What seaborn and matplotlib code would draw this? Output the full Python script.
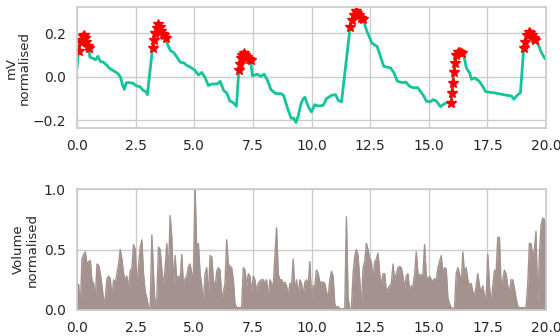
import numpy as np
import pandas as pd
import matplotlib
matplotlib.use("Agg")
import matplotlib.pyplot as plt
import seaborn as sns

# ---- ECG-like trace (seconds, normalised mV) ----
TIME = [0.0, 0.04, 0.09, 0.15, 0.2, 0.25, 0.3, 0.35, 0.4, 0.45, 0.51, 0.55, 0.68, 0.79, 0.89, 0.95,
        1.0, 1.1, 1.2, 1.3, 1.35, 1.45, 1.56, 1.68, 1.77, 1.86, 1.95, 2.02, 2.1, 2.25, 2.4, 2.54,
        2.68, 2.82, 2.95, 3.0, 3.22, 3.28, 3.34, 3.4, 3.47, 3.53, 3.6, 3.66, 3.72, 3.78, 3.83, 3.9,
        3.98, 4.12, 4.2, 4.26, 4.4, 4.55, 4.69, 4.84, 5.03, 5.18, 5.32, 5.46, 5.6, 5.75, 5.97, 6.11,
        6.25, 6.4, 6.51, 6.65, 6.8, 6.9, 6.95, 7.0, 7.05, 7.12, 7.18, 7.25, 7.32, 7.4, 7.48, 7.69,
        7.84, 7.98, 8.13, 8.27, 8.48, 8.7, 8.81, 8.98, 9.13, 9.24, 9.34, 9.44, 9.55, 9.65, 9.72, 9.87,
        10.0, 10.14, 10.28, 10.5, 10.64, 10.86, 11.03, 11.14, 11.28, 11.65, 11.72, 11.8, 11.88, 11.95,
        12.02, 12.1, 12.2, 12.36, 12.58, 12.8, 12.94, 13.08, 13.37, 13.52, 13.66, 13.88, 14.02, 14.17,
        14.31, 14.53, 14.67, 14.77, 14.9, 15.05, 15.19, 15.33, 15.5, 15.69, 15.83, 15.95, 15.99, 16.03,
        16.07, 16.12, 16.18, 16.25, 16.32, 16.4, 16.5, 16.6, 16.74, 16.82, 16.96, 17.15, 17.29, 17.43,
        17.6, 17.81, 18.1, 18.34, 18.53, 18.63, 18.77, 18.91, 19.05, 19.12, 19.2, 19.27, 19.33, 19.4,
        19.47, 19.55, 19.67, 19.81, 19.96]
MV = [0.04, 0.09, 0.12, 0.16, 0.17, 0.185, 0.19, 0.18, 0.16, 0.14, 0.13, 0.09, 0.085, 0.078, 0.094, 0.08,
      0.07, 0.068, 0.06, 0.05, 0.042, 0.035, 0.027, 0.02, 0.012, -0.003, -0.04, -0.058, -0.027, -0.027, -0.03, -0.042,
      -0.045, -0.062, -0.07, -0.082, 0.13, 0.17, 0.2, 0.225, 0.24, 0.23, 0.21, 0.195, 0.19, 0.18, 0.157, 0.14,
      0.12, 0.112, 0.1, 0.09, 0.067, 0.064, 0.052, 0.044, 0.03, 0.008, 0.02, -0.003, -0.04, -0.033, -0.033, -0.021,
      -0.062, -0.077, -0.11, -0.118, -0.135, 0.03, 0.06, 0.085, 0.1, 0.11, 0.1, 0.09, 0.08, 0.075, 0.005, 0.012,
      0.002, 0.012, -0.018, -0.059, -0.077, -0.077, -0.085, -0.145, -0.19, -0.19, -0.21, -0.176, -0.123, -0.1, -0.094, -0.139,
      -0.161, -0.128, -0.134, -0.131, -0.1, -0.085, -0.082, -0.108, -0.115, 0.23, 0.26, 0.285, 0.3, 0.295,
      0.285, 0.27, 0.265, 0.21, 0.154, 0.139, 0.094, 0.048, 0.041, 0.018, -0.02, -0.027, -0.024, -0.042,
      -0.05, -0.05, -0.07, -0.085, -0.112, -0.115, -0.105, -0.112, -0.137, -0.122, -0.118, -0.12, -0.075, -0.03,
      0.02, 0.065, 0.1, 0.115, 0.115, 0.11, 0.095, 0.042, 0.018, -0.012, -0.005, -0.02, -0.042, -0.068,
      -0.071, -0.074, -0.08, -0.085, -0.088, -0.103, -0.085, -0.073, 0.13, 0.16, 0.19, 0.205, 0.2, 0.19,
      0.18, 0.17, 0.148, 0.11, 0.083]

# detected peak windows (seconds)
PEAK_WINDOWS = [(0.09, 0.51), (3.22, 3.78), (6.9, 7.4), (11.65, 12.2), (15.95, 16.4), (19.05, 19.55)]

# ---- Volume envelope, uniformly sampled over 0..20 s ----
VOLUME = [0.21, 0.21, 0.03, 0.42, 0.46, 0.48, 0.38, 0.40, 0.41, 0.24,
          0.22, 0.08, 0.38, 0.37, 0.30, 0.20, 0.08, 0.10, 0.26, 0.28, 0.26,
          0.10, 0.25, 0.22, 0.30, 0.38, 0.50, 0.42, 0.30, 0.25, 0.28, 0.18,
          0.32, 0.35, 0.54, 0.50, 0.20, 0.36, 0.52, 0.58, 0.30, 0.15, 0.10,
          0.02, 0.02, 0.62, 0.30, 0.02, 0.10, 0.52, 0.50, 0.33, 0.20,
          0.35, 0.55, 0.30, 0.78, 0.60, 0.20, 0.45, 0.25, 0.28, 0.25,
          0.46, 0.20, 0.26, 0.28, 0.36, 0.38, 0.30, 0.30, 1.00, 0.50,
          0.55, 0.30, 0.20, 0.05, 0.30, 0.35, 0.10, 0.45, 0.44, 0.25,
          0.18, 0.32, 0.35, 0.33, 0.10, 0.15, 0.22, 0.58, 0.38, 0.36,
          0.35, 0.25, 0.05, 0.02, 0.02, 0.02, 0.02, 0.35, 0.33, 0.20, 0.30,
          0.28, 0.15, 0.28, 0.25, 0.15, 0.22, 0.24, 0.25, 0.25, 0.22,
          0.25, 0.10, 0.25, 0.22, 0.20, 0.45, 0.68, 0.30,
          0.25, 0.25, 0.22, 0.23, 0.20, 0.12, 0.22, 0.20,
          0.42, 0.15, 0.25, 0.12, 0.25, 0.22, 0.12, 0.23, 0.25, 0.20,
          0.40, 0.10, 0.20, 0.20, 0.33, 0.30, 0.23, 0.23, 0.23, 0.22,
          0.15, 0.10, 0.25, 0.32, 0.28, 0.05, 0.02, 0.03, 0.01, 0.01,
          0.01, 0.01, 0.77, 0.10, 0.01, 0.01, 0.30, 0.45, 0.50, 0.45,
          0.25, 0.02, 0.35, 0.40, 0.55, 0.50, 0.42, 0.40, 0.25, 0.40,
          0.42, 0.47, 0.30, 0.20, 0.30, 0.30, 0.15, 0.18, 0.20, 0.22,
          0.38, 0.25, 0.30, 0.35, 0.36, 0.35, 0.28, 0.18, 0.28, 0.30,
          0.16, 0.20, 0.20, 0.30, 0.48, 0.30, 0.29, 0.29, 0.30, 0.54,
          0.28, 0.25, 0.28, 0.25, 0.24, 0.26, 0.24, 0.35, 0.40, 0.45,
          0.30, 0.35, 0.34, 0.10, 0.05, 0.02, 0.01, 0.02, 0.30, 0.35,
          0.30, 0.20, 0.48, 0.30, 0.35, 0.25, 0.20, 0.22, 0.15, 0.12,
          0.20, 0.30, 0.20, 0.15, 0.20, 0.12, 0.10, 0.46, 0.20, 0.05,
          0.20, 0.33, 0.30, 0.60, 0.60, 0.20, 0.25, 0.33, 0.30, 0.20,
          0.15, 0.25, 0.25, 0.18, 0.10, 0.03, 0.02, 0.02, 0.02, 0.02,
          0.02, 0.20, 0.55, 0.55, 0.45, 0.50, 0.65, 0.05, 0.45, 0.70,
          0.76, 0.75, 0.70]

X_TICKS = [0.0, 2.5, 5.0, 7.5, 10.0, 12.5, 15.0, 17.5, 20.0]

sns.set_theme(style="whitegrid")
plt.rcParams["font.family"] = ["DejaVu Sans"]

fig = plt.figure(figsize=(5.6, 3.36), dpi=100)
ax1 = fig.add_axes([0.1375, 0.619, 0.8375, 0.36])
ax2 = fig.add_axes([0.1375, 0.0774, 0.8375, 0.36])

ecg = pd.DataFrame({"t": TIME, "mv": MV})
sns.lineplot(data=ecg, x="t", y="mv", ax=ax1, color="#14c49a", lw=2, sort=False, estimator=None)
for (a, b) in PEAK_WINDOWS:
    seg = ecg[(ecg.t >= a) & (ecg.t <= b)]
    sns.lineplot(data=seg, x="t", y="mv", ax=ax1, color="red", lw=2, alpha=0.55,
                 sort=False, estimator=None)
    ax1.plot(seg.t, seg.mv, ls="none", marker="*", ms=7, color="red", mec="red")

ax1.set_xlim(0, 20)
ax1.set_ylim(-0.235, 0.32)
ax1.set_yticks([-0.2, 0.0, 0.2])
ax1.set_xticks(X_TICKS)
ax1.set_xticklabels([f"{v:.1f}" for v in X_TICKS])
ax1.set_xlabel("")
ax1.set_ylabel("mV\nnormalised", fontsize=9.5, labelpad=1, linespacing=1.0)

vol = pd.DataFrame({"t": np.linspace(0, 20, len(VOLUME)), "v": VOLUME})
ax2.fill_between(vol.t, 0, vol.v, color="#a3928e", lw=0)
sns.lineplot(data=vol, x="t", y="v", ax=ax2, color="#a3928e", lw=1, sort=False, estimator=None)
ax2.set_xlim(0, 20)
ax2.set_ylim(0, 1)
ax2.set_yticks([0.0, 0.5, 1.0])
ax2.set_xticks(X_TICKS)
ax2.set_xticklabels([f"{v:.1f}" for v in X_TICKS])
ax2.set_xlabel("")
ax2.set_ylabel("Volume\nnormalised", fontsize=9.5, labelpad=4, linespacing=1.0)

for ax in (ax1, ax2):
    ax.tick_params(labelsize=10, pad=2)

fig.savefig("out.png", dpi=100)
